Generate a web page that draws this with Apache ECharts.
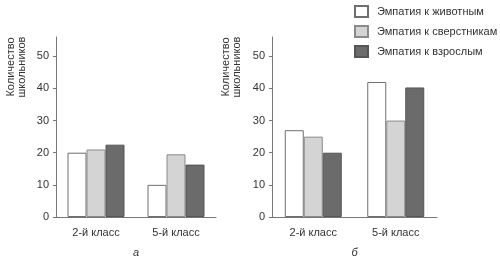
<!DOCTYPE html>
<html>
<head>
<meta charset="utf-8">
<script src="https://cdn.jsdelivr.net/npm/echarts@6/dist/echarts.min.js"></script>
<style>
    html, body { margin: 0; padding: 0; background: #fff; }
    #chart { width: 500px; height: 258px; }
</style>
</head>
<body>
<div id="chart"></div>
<script>
var classes = ['2-й класс', '5-й класс'];
var seriesNames = ['Эмпатия к животным', 'Эмпатия к сверстникам', 'Эмпатия к взрослым'];
var yTicks = [0, 10, 20, 30, 40, 50];

// панель а
var animalsA = [20, 10];
var peersA = [21, 19.5];
var adultsA = [22.5, 16.3];

// панель б
var animalsB = [27, 42];
var peersB = [25, 30];
var adultsB = [20, 40.3];

var fills = ['#ffffff', '#d4d4d4', '#6b6b6b'];
var borders = ['#6f6f6f', '#8a8a8a', '#555555'];
var font = 'Liberation Sans, Arial, sans-serif';

function makeX(idx, label) {
    return {
        type: 'category',
        gridIndex: idx,
        data: classes,
        axisLine: { lineStyle: { color: '#777', width: 1 } },
        axisTick: { show: false },
        axisLabel: { color: '#333', fontSize: 11, fontFamily: font, margin: 10 },
        name: label,
        nameLocation: 'middle',
        nameGap: 30,
        nameTextStyle: { color: '#333', fontSize: 11, fontStyle: 'italic', fontFamily: font }
    };
}

function makeY(idx) {
    return {
        type: 'value',
        gridIndex: idx,
        min: 0,
        max: 56,
        interval: 10,
        splitLine: { show: false },
        axisLine: { show: true, lineStyle: { color: '#777', width: 1 } },
        axisTick: { show: true, length: 3, customValues: yTicks, lineStyle: { color: '#777' } },
        axisLabel: { color: '#333', fontSize: 11, fontFamily: font, margin: 7, customValues: yTicks }
    };
}

function makeBar(i, values, idx) {
    return {
        name: seriesNames[i],
        type: 'bar',
        xAxisIndex: idx,
        yAxisIndex: idx,
        data: values,
        barWidth: 19,
        barGap: '0%',
        itemStyle: { color: fills[i], borderColor: borders[i], borderWidth: 1 },
        emphasis: { disabled: true }
    };
}

function yName(x) {
    return {
        type: 'text', x: x, y: 67, rotation: Math.PI / 2,
        style: { text: 'Количество\nшкольников', fill: '#333', font: '11px ' + font, align: 'center', verticalAlign: 'middle', lineHeight: 11 }
    };
}

var chart = echarts.init(document.getElementById('chart'), null, { renderer: 'canvas' });

chart.setOption({
    animation: false,
    backgroundColor: '#fff',
    legend: {
        orient: 'vertical',
        left: 354,
        top: 5,
        padding: 0,
        itemWidth: 13,
        itemHeight: 11,
        itemGap: 7,
        icon: 'rect',
        data: seriesNames,
        textStyle: { color: '#333', fontSize: 11, fontFamily: font, padding: [0, 0, 0, 4] }
    },
    grid: [
        { left: 56, top: 37, width: 160, height: 180, outerBoundsMode: 'none' },
        { left: 272, top: 37, width: 165, height: 180, outerBoundsMode: 'none' }
    ],
    xAxis: [makeX(0, 'а'), makeX(1, 'б')],
    yAxis: [makeY(0), makeY(1)],
    graphic: [yName(16), yName(231)],
    series: [
        makeBar(0, animalsA, 0),
        makeBar(1, peersA, 0),
        makeBar(2, adultsA, 0),
        makeBar(0, animalsB, 1),
        makeBar(1, peersB, 1),
        makeBar(2, adultsB, 1)
    ]
});
</script>
</body>
</html>
